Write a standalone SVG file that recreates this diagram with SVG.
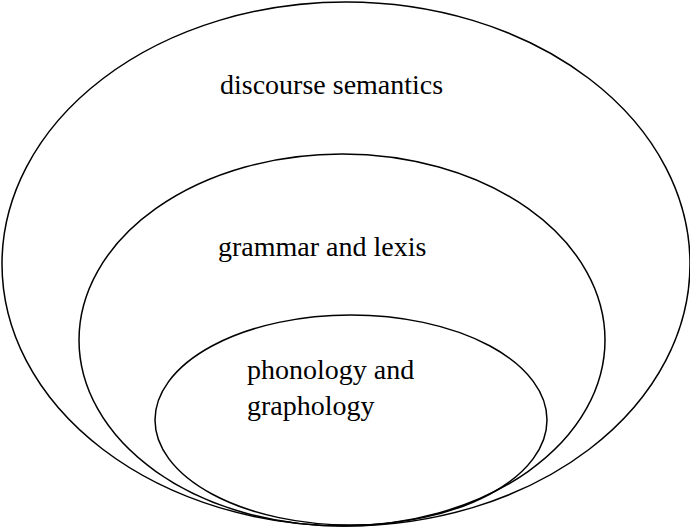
<svg xmlns="http://www.w3.org/2000/svg" width="690" height="528" viewBox="0 0 690 528">
<style>
.e{fill:none;stroke:#000;stroke-width:1.5}
.t{font-family:"Liberation Serif","Times New Roman",serif;font-size:28px;fill:#000}
</style>
<rect width="690" height="528" fill="#fff"/>
<g id="outer"><ellipse class="e" cx="346" cy="264" rx="344" ry="262"/><text class="t" x="220" y="94">discourse semantics</text></g>
<g id="middle"><ellipse class="e" cx="342" cy="340" rx="263" ry="186"/><text class="t" x="218" y="256">grammar and lexis</text></g>
<g id="inner"><ellipse class="e" cx="351" cy="420" rx="196" ry="105"/><text class="t" x="247" y="379">phonology and</text><text class="t" x="247" y="415">graphology</text></g>
<g id="connectors"/>
</svg>
